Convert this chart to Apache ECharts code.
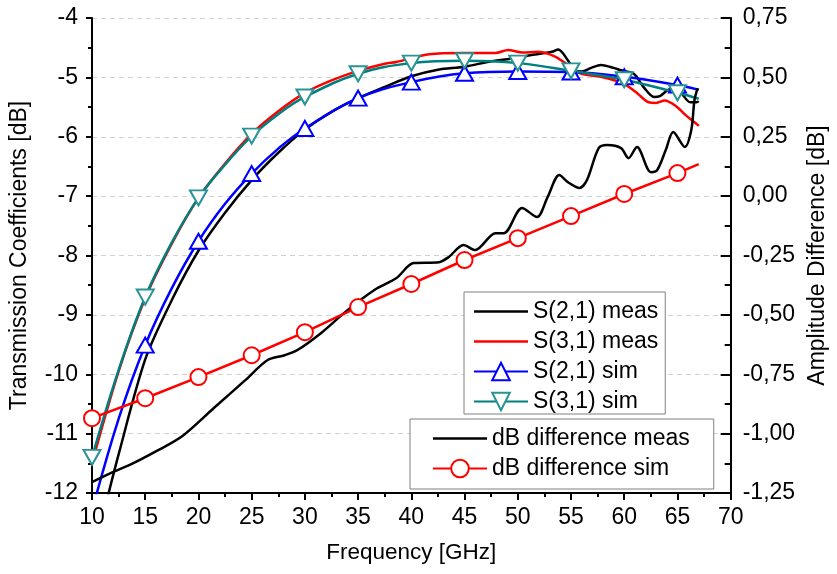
<!DOCTYPE html>
<html>
<head>
<meta charset="utf-8">
<script src="https://cdn.jsdelivr.net/npm/echarts@6/dist/echarts.min.js"></script>
<style>html,body{margin:0;padding:0;background:#fff;}#c{width:837px;height:574px;}</style>
</head>
<body>
<div id="c"></div>
<script>
// ---- data ----
const xTicks = [10, 70, 5];
const leftTicks = [-12, -4, 1];
const rightTicks = [-1.25, 0.75, 0.25];

const s21MeasF = [10, 11, 12.5, 15, 17.5, 20, 22.5, 25, 27.5, 30, 32.5, 35, 37.5, 40, 42.5, 45, 47.5, 50, 51, 53.2, 53.8, 54.7, 55.3, 56, 56.9, 57.8, 59, 59.7, 60.9, 61.8, 62.8, 63.4, 64.3, 65.3, 66.2, 66.8, 67];
const s21MeasV = [-13.1, -12.4, -11.35, -9.75, -8.75, -7.92, -7.28, -6.73, -6.27, -5.88, -5.58, -5.35, -5.16, -4.98, -4.87, -4.82, -4.73, -4.67, -4.63, -4.57, -4.53, -4.71, -4.87, -4.9, -4.84, -4.79, -4.84, -4.88, -4.94, -5.16, -5.33, -5.31, -5.2, -5.26, -5.42, -5.42, -5.4];

const s31MeasF = [10, 12.5, 15, 17.5, 20, 22.5, 25, 27.5, 30, 32.5, 35, 37.5, 38.6, 41.7, 44.8, 47.9, 49.1, 50.4, 51.9, 53.5, 54.7, 56, 57.8, 59.3, 60.2, 61.3, 62.3, 63, 63.8, 64.9, 65.8, 66.9, 67];
const s31MeasV = [-11.5, -9.95, -8.72, -7.8, -7.03, -6.45, -5.95, -5.57, -5.26, -5.05, -4.89, -4.77, -4.74, -4.61, -4.59, -4.59, -4.54, -4.58, -4.57, -4.65, -4.79, -4.94, -4.99, -5.06, -5.13, -5.28, -5.42, -5.43, -5.39, -5.49, -5.64, -5.8, -5.82];

const simF = [10, 12.5, 15, 17.5, 20, 22.5, 25, 27.5, 30, 35, 40, 45, 50, 55, 60, 65, 67];
const s21SimV = [-12.3, -10.75, -9.51, -8.55, -7.76, -7.13, -6.62, -6.2, -5.86, -5.35, -5.08, -4.93, -4.9, -4.91, -4.99, -5.13, -5.21];
const s31SimV = [-11.4, -9.93, -8.7, -7.78, -7.03, -6.47, -5.99, -5.62, -5.33, -4.94, -4.76, -4.72, -4.76, -4.89, -5.04, -5.26, -5.36];

const diffMeasF = [10, 11.7, 13.5, 16, 18.5, 21.5, 24.4, 26.5, 28.1, 29.3, 31.5, 34, 36.5, 38.6, 40.2, 42.6, 43.5, 44.9, 46, 47.9, 48.7, 50.4, 51.8, 52.8, 53.9, 54.7, 55.8, 56.5, 57.6, 58.4, 59.7, 60.4, 61.2, 62.5, 63.1, 63.9, 64.6, 65.7, 66.3, 66.6, 66.9];
const diffMeasV = [-1.204, -1.167, -1.133, -1.075, -1.01, -0.89, -0.775, -0.69, -0.67, -0.648, -0.577, -0.48, -0.396, -0.345, -0.282, -0.278, -0.257, -0.206, -0.227, -0.156, -0.156, -0.05, -0.088, -0.004, 0.089, 0.059, 0.034, 0.068, 0.202, 0.215, 0.202, 0.16, 0.207, 0.101, 0.11, 0.194, 0.27, 0.207, 0.278, 0.405, 0.455];

const diffSimF = [10, 15, 20, 25, 30, 35, 40, 45, 50, 55, 60, 65, 67];
const diffSimV = [-0.935, -0.851, -0.762, -0.67, -0.573, -0.467, -0.37, -0.269, -0.177, -0.084, 0.009, 0.097, 0.135];

const names = ['S(2,1) meas', 'S(3,1) meas', 'S(2,1) sim', 'S(3,1) sim', 'dB difference meas', 'dB difference sim'];

// ---- build ----
const FONT = "'Liberation Sans', Arial, sans-serif";
const LINE_ICON = 'path://M0,0H54V2.5H0Z';
function pairs(f, v) { return f.map((x, i) => [x, v[i]]); }
function marked(f, v) {
  return f.map((x, i) => (x % 5 === 0) ? { value: [x, v[i]] } : { value: [x, v[i]], symbol: 'none' });
}
const txt = { fontSize: 23, color: '#000', fontFamily: FONT };
const titleTxt = { fontSize: 23, color: '#000', fontFamily: FONT };

const chart = echarts.init(document.getElementById('c'), null, { renderer: 'canvas' });
chart.setOption({
  animation: false,
  backgroundColor: '#fff',
  textStyle: { fontFamily: FONT },
  grid: { left: 92, right: 98, top: 18, bottom: 81, containLabel: false },
  xAxis: {
    type: 'value', min: xTicks[0], max: xTicks[1], interval: xTicks[2],
    name: 'Frequency [GHz]', nameLocation: 'middle', nameGap: 48,
    nameTextStyle: { fontSize: 22.5, color: '#000', fontFamily: FONT },
    axisLine: { onZero: false, lineStyle: { color: '#000', width: 2 } },
    axisTick: { inside: false, length: 7, lineStyle: { color: '#000', width: 2 } },
    minorTick: { show: true, splitNumber: 2, length: 4, lineStyle: { color: '#000', width: 2 } },
    axisLabel: Object.assign({ margin: 13 }, txt),
    splitLine: { show: false }
  },
  yAxis: [{
    type: 'value', min: leftTicks[0], max: leftTicks[1], interval: leftTicks[2],
    name: 'Transmission Coefficients [dB]', nameLocation: 'middle', nameGap: 61, nameRotate: 90,
    nameTextStyle: titleTxt,
    axisLine: { show: true, onZero: false, lineStyle: { color: '#000', width: 2 } },
    axisTick: { show: true, inside: false, length: 6, lineStyle: { color: '#000', width: 2 } },
    minorTick: { show: true, splitNumber: 2, length: 4, lineStyle: { color: '#000', width: 2 } },
    axisLabel: Object.assign({ margin: 14 }, txt),
    splitLine: { show: true, lineStyle: { color: '#d2d2d2', width: 1, type: [5, 4] } }
  }, {
    type: 'value', position: 'right', min: rightTicks[0], max: rightTicks[1], interval: rightTicks[2],
    name: 'Amplitude Difference [dB]', nameLocation: 'middle', nameGap: 70, nameRotate: 90,
    nameTextStyle: titleTxt,
    axisLine: { show: true, onZero: false, lineStyle: { color: '#000', width: 2 } },
    axisTick: { show: true, inside: true, length: 10, lineStyle: { color: '#000', width: 2 } },
    minorTick: { show: true, splitNumber: 2, length: 6, lineStyle: { color: '#000', width: 2 } },
    axisLabel: Object.assign({ margin: 12, formatter: v => v.toFixed(2).replace('.', ',') }, txt),
    splitLine: { show: false }
  }],
  legend: [{
    data: [
      { name: names[0], icon: LINE_ICON },
      { name: names[1], icon: LINE_ICON },
      { name: names[2] },
      { name: names[3] }
    ],
    orient: 'vertical', left: 464, top: 292,
    padding: [8, 7, 1, 9], itemGap: 7, itemWidth: 54, itemHeight: 22,
    borderColor: '#808080', borderWidth: 1, backgroundColor: '#fff',
    textStyle: txt, selectedMode: false
  }, {
    data: [
      { name: names[4], icon: LINE_ICON },
      { name: names[5] }
    ],
    orient: 'vertical', left: 410, top: 419,
    padding: [8, 24, 9, 22], itemGap: 7, itemWidth: 54, itemHeight: 22,
    borderColor: '#808080', borderWidth: 1, backgroundColor: '#fff',
    textStyle: txt, selectedMode: false
  }],
  series: [{
    name: names[0], type: 'line', yAxisIndex: 0, data: pairs(s21MeasF, s21MeasV),
    symbol: 'none', smooth: 0.3, lineStyle: { color: '#000', width: 2.5 }, itemStyle: { color: '#000' }
  }, {
    name: names[1], type: 'line', yAxisIndex: 0, data: pairs(s31MeasF, s31MeasV),
    symbol: 'none', smooth: 0.3, lineStyle: { color: '#ff0000', width: 2.5 }, itemStyle: { color: '#ff0000' }
  }, {
    name: names[2], type: 'line', yAxisIndex: 0, data: marked(simF, s21SimV),
    symbol: 'emptyTriangle', symbolSize: [17, 15], showAllSymbol: true, smooth: 0.4,
    lineStyle: { color: '#0000ff', width: 2.5 }, itemStyle: { color: '#0000ff', borderWidth: 1.2 }
  }, {
    name: names[3], type: 'line', yAxisIndex: 0, data: marked(simF, s31SimV),
    symbol: 'emptyTriangle', symbolRotate: 180, symbolSize: [17, 15], showAllSymbol: true, smooth: 0.4,
    lineStyle: { color: '#007f7f', width: 2.5 }, itemStyle: { color: '#2a9393', borderWidth: 1.2 }
  }, {
    name: names[4], type: 'line', yAxisIndex: 1, data: pairs(diffMeasF, diffMeasV),
    symbol: 'none', smooth: 0.3, lineStyle: { color: '#000', width: 2.5 }, itemStyle: { color: '#000' }
  }, {
    name: names[5], type: 'line', yAxisIndex: 1, data: marked(diffSimF, diffSimV),
    symbol: 'emptyCircle', symbolSize: 16, showAllSymbol: true,
    lineStyle: { color: '#ff0000', width: 2.5 }, itemStyle: { color: '#ff0000', borderWidth: 1.2 }
  }]
});
</script>
</body>
</html>
